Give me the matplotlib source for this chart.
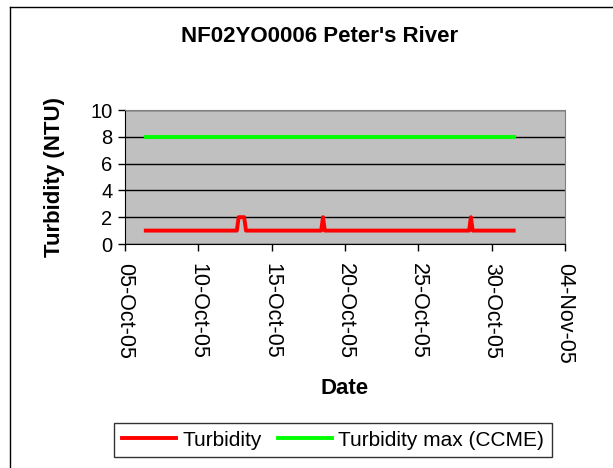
import matplotlib
matplotlib.use('agg')
import matplotlib.pyplot as plt
import matplotlib.dates as mdates
from matplotlib.lines import Line2D
import pandas as pd

plt.rcParams['font.family'] = ['Liberation Sans', 'DejaVu Sans']

title = "NF02YO0006 Peter's River"

# turbidity record (NTU)
turb_times = ['2005-10-06 10:00', '2005-10-12 15:00', '2005-10-12 18:00',
              '2005-10-13 03:00', '2005-10-13 06:00', '2005-10-18 09:00',
              '2005-10-18 12:00', '2005-10-18 15:00', '2005-10-28 11:00',
              '2005-10-28 14:00', '2005-10-28 17:00', '2005-10-31 12:00']
turb_values = [1, 1, 2, 2, 1, 1, 2, 1, 1, 2, 1, 1]

# CCME guideline
ccme_times = ['2005-10-06 10:00', '2005-10-31 12:00']
ccme_values = [8, 8]

tick_dates = ['2005-10-05', '2005-10-10', '2005-10-15', '2005-10-20',
              '2005-10-25', '2005-10-30', '2005-11-04']

turb_t = pd.to_datetime(turb_times)
ccme_t = pd.to_datetime(ccme_times)
ticks = pd.to_datetime(tick_dates)

fig = plt.figure(figsize=(6.13, 4.68), dpi=100)
ax = fig.add_axes([125/613, 1-244/468, 440/613, 134/468])
ax.set_facecolor('#c0c0c0')

l1, = ax.plot(turb_t, turb_values, color='#ff0000', lw=2.8, label='Turbidity')
l2, = ax.plot(ccme_t, ccme_values, color='#00ff00', lw=2.8, label='Turbidity max (CCME)')

ax.set_ylim(0, 10)
ax.set_yticks([0, 2, 4, 6, 8, 10])
ax.yaxis.grid(True, color='black', lw=1)
ax.set_axisbelow(True)

ax.set_xlim(ticks[0], ticks[-1])
ax.set_xticks(ticks)
ax.xaxis.set_major_formatter(mdates.DateFormatter('%d-%b-%y'))
for lab in ax.get_xticklabels():
    lab.set_rotation(-90)
    lab.set_va('top')
    lab.set_ha('center')

ax.tick_params(axis='both', direction='out', length=5, width=1, color='black',
               labelsize=14.5)
ax.tick_params(axis='x', pad=9, labelsize=15.5)
ax.tick_params(axis='y', pad=4)

for side in ['top', 'right']:
    ax.spines[side].set_color('#808080')
for side in ['left', 'bottom']:
    ax.spines[side].set_color('black')

ax.set_ylabel('Turbidity (NTU)', fontsize=16, fontweight='bold', labelpad=18)
ax.set_xlabel('Date', fontsize=16, fontweight='bold', labelpad=10)
fig.text(320/613, 1-37/468, title, fontsize=16, fontweight='bold',
         ha='center', va='center')

leg = fig.legend(handles=[l1, l2], loc='center', ncol=2,
                 bbox_to_anchor=(333/613, 1-440/468), fontsize=15,
                 frameon=True, fancybox=False, edgecolor='black',
                 handlelength=2.6, handletextpad=0.3, columnspacing=0.8,
                 borderpad=0.35)
leg.get_frame().set_linewidth(1)

# chart area border
fig.add_artist(Line2D([10/613, 10/613], [0, 1-7/468], color='black', lw=1))
fig.add_artist(Line2D([10/613, 1], [1-7/468, 1-7/468], color='black', lw=1))

fig.savefig('out.png', dpi=100)
